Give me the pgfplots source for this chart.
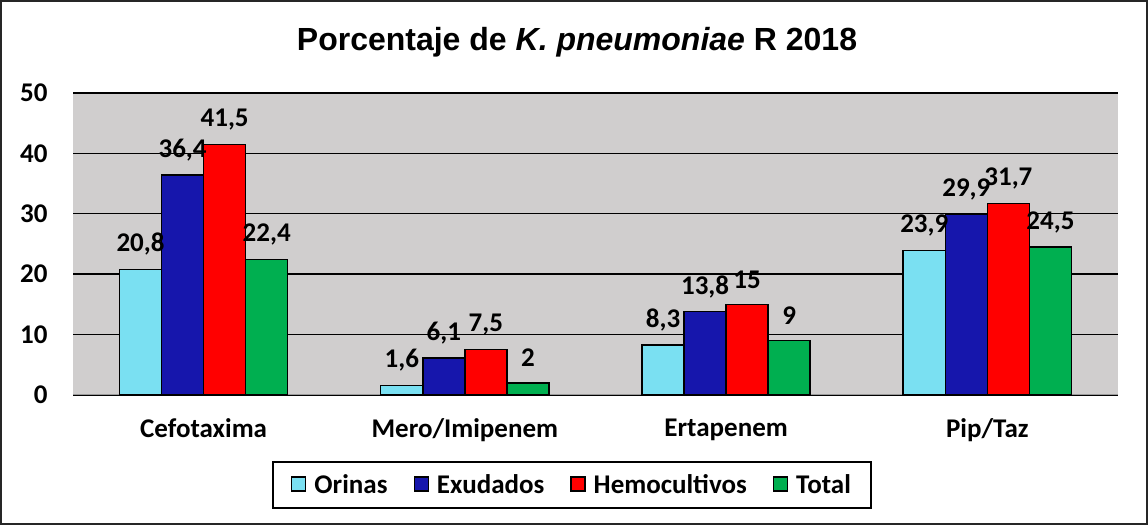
\documentclass[border=0pt]{standalone}
\usepackage{fontspec}
\setmainfont{Carlito}
\newfontfamily\arialfont{Liberation Sans}
\usepackage{pgfplots}
\pgfplotsset{compat=1.18}
\usepackage{pgfplotstable}
\definecolor{corin}{HTML}{7AE0F2}
\definecolor{cexu}{HTML}{1616AC}
\definecolor{chemo}{HTML}{FF0000}
\definecolor{ctot}{HTML}{00AF50}
\definecolor{bggray}{HTML}{D0CECE}
\pgfplotstableread{
x y
0 20.8
1 1.6
2 8.3
3 23.9
}\orinas
\pgfplotstableread{
x y
0 36.4
1 6.1
2 13.8
3 29.9
}\exudados
\pgfplotstableread{
x y
0 41.5
1 7.5
2 15
3 31.7
}\hemo
\pgfplotstableread{
x y
0 22.4
1 2
2 9
3 24.5
}\total
\begin{document}
\begin{tikzpicture}
\useasboundingbox (0,0) rectangle (1148bp,525bp);
\draw[line width=1.5bp, draw=black!85] (1bp,1bp) rectangle (1147bp,524bp);
\begin{axis}[
  at={(73bp,130bp)}, anchor=south west,
  scale only axis, width=1045bp, height=302bp,
  xmin=-0.5, xmax=3.5, ymin=0, ymax=50,
  ybar=0pt, bar width=0.161,
  axis background/.style={fill=bggray},
  axis x line*=bottom, axis y line*=left,
  x axis line style={draw=black!40, line width=1bp},
  y axis line style={draw=none},
  ymajorgrids, grid style={draw=black, line width=1.4bp},
  ytick={0,10,20,30,40,50},
  xtick={0,1,2,3},
  xticklabels={Cefotaxima, Mero/Imipenem, Ertapenem, Pip/Taz},
  major tick length=0pt,
  yticklabel style={font=\bfseries\fontsize{27bp}{30bp}\selectfont, anchor=east, xshift=-22bp},
  xticklabel style={font=\bfseries\fontsize{27bp}{30bp}\selectfont, yshift=-20bp},
  /pgf/number format/.cd, use comma, assume math mode=true, /pgfplots/.cd,
  nodes near coords,
  every node near coord/.append style={font=\bfseries\fontsize{27bp}{30bp}\selectfont, anchor=center, yshift=25bp},
  legend columns=4,
  legend style={at={(0.4775,-0.298)}, anchor=center, draw=black, line width=1.5bp,
    font=\bfseries\fontsize{27bp}{30bp}\selectfont, inner xsep=18bp, inner ysep=11bp,
    /tikz/every odd column/.append style={column sep=6bp},
    /tikz/every even column/.append style={column sep=24bp}},
  legend image code/.code={\draw[#1, draw=black, line width=1.4bp] (0bp,-6bp) rectangle (14bp,8bp);},
]
\addplot[fill=corin, draw=black, line width=1.5bp] table[x=x,y=y] {\orinas};
\addplot[fill=cexu, draw=black, line width=1.5bp] table[x=x,y=y] {\exudados};
\addplot[fill=chemo, draw=black, line width=1.5bp] table[x=x,y=y] {\hemo};
\addplot[fill=ctot, draw=black, line width=1.5bp] table[x=x,y=y] {\total};
\legend{Orinas, Exudados, Hemocultivos, Total}
\end{axis}
\node[font=\arialfont\bfseries\fontsize{32bp}{36bp}\selectfont] at (577bp,483bp) {Porcentaje de \textit{K. pneumoniae} R 2018};
\end{tikzpicture}
\end{document}
